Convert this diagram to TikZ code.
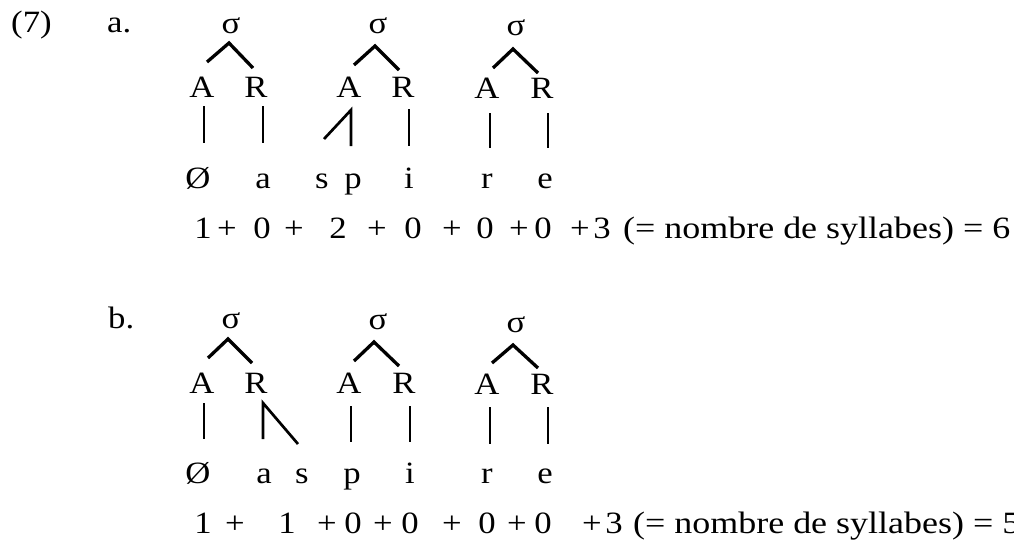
\documentclass[tikz,border=0pt]{standalone}
\usepackage{fontspec}
\setmainfont[FakeStretch=1.12]{Liberation Serif}
\begin{document}
\begin{tikzpicture}[x=1pt,y=-1pt,
  t/.style={inner sep=0pt,anchor=base,font=\fontsize{31}{34}\selectfont},
  tl/.style={inner sep=0pt,anchor=base west,font=\fontsize{31}{34}\selectfont},
  tail/.style={inner sep=0pt,anchor=base west,font=\fontsize{31}{34}\selectfont\addfontfeature{FakeStretch=1.16}},
  br/.style={line width=3.3pt},
  vl/.style={line width=2.7pt}]
\useasboundingbox (0,0) rectangle (1014,544);
% labels
\node[tl] (ex) at (11,32) {(7)};
\node[tl] (la) at (107,32) {a.};
\node[tl] (lb) at (108,328) {b.};
% ---------- (a) ----------
\node[t] (sa1) at (231,33) {σ};
\node[t] (sa2) at (378,33) {σ};
\node[t] (sa3) at (516,35) {σ};
\node[t] (Aa1) at (202,97) {A};
\node[t] (Ra1) at (256,97) {R};
\node[t] (Aa2) at (349,97) {A};
\node[t] (Ra2) at (403,97) {R};
\node[t] (Aa3) at (487,98) {A};
\node[t] (Ra3) at (542,98) {R};
\node[t] (ga1) at (198,188) {Ø};
\node[t] (ga2) at (263,188) {a};
\node[t] (ga3) at (322,188) {s};
\node[t] (ga4) at (353,188) {p};
\node[t] (ga5) at (409,188) {i};
\node[t] (ga6) at (487,188) {r};
\node[t] (ga7) at (545,188) {e};
% numbers (a)
\foreach \x/\s [count=\i] in {203/1,227/+,262/0,294/+,338/2,377/+,413/0,452/+,485/0,519/+,543/0,580/+,602/3}
  \node[t] (na\i) at (\x,238) {\s};
\node[tail] (nat) at (623,238) {(= nombre de syllabes) = 6};
% coordinates (a)
\coordinate (pa1) at (229,43); \coordinate (qa1) at (207,62); \coordinate (ra1) at (253,68);
\coordinate (pa2) at (375,46); \coordinate (qa2) at (354,65); \coordinate (ra2) at (399,70);
\coordinate (pa3) at (513,49); \coordinate (qa3) at (493,68); \coordinate (ra3) at (538,73);
\draw[br] (qa1) -- (pa1) -- (ra1);
\draw[br] (qa2) -- (pa2) -- (ra2);
\draw[br] (qa3) -- (pa3) -- (ra3);
\coordinate (ua1) at (204,106); \coordinate (da1) at (204,143);
\coordinate (ua2) at (263,106); \coordinate (da2) at (263,143);
\coordinate (ua3) at (351,110); \coordinate (da3) at (351,146); \coordinate (sa) at (324,139);
\coordinate (ua4) at (409,109); \coordinate (da4) at (409,146);
\coordinate (ua5) at (490,113); \coordinate (da5) at (490,148);
\coordinate (ua6) at (548,113); \coordinate (da6) at (548,148);
\draw[vl] (ua1) -- (da1);
\draw[vl] (ua2) -- (da2);
\draw[vl] (sa) -- (ua3) -- (da3);
\draw[vl] (ua4) -- (da4);
\draw[vl] (ua5) -- (da5);
\draw[vl] (ua6) -- (da6);
% ---------- (b) ----------
\node[t] (sb1) at (231,328) {σ};
\node[t] (sb2) at (378,329) {σ};
\node[t] (sb3) at (516,332) {σ};
\node[t] (Ab1) at (202,393) {A};
\node[t] (Rb1) at (256,393) {R};
\node[t] (Ab2) at (349,393) {A};
\node[t] (Rb2) at (404,393) {R};
\node[t] (Ab3) at (487,394) {A};
\node[t] (Rb3) at (542,394) {R};
\node[t] (gb1) at (198,483) {Ø};
\node[t] (gb2) at (264,483) {a};
\node[t] (gb3) at (302,483) {s};
\node[t] (gb4) at (352,483) {p};
\node[t] (gb5) at (410,483) {i};
\node[t] (gb6) at (487,483) {r};
\node[t] (gb7) at (545,483) {e};
\foreach \x/\s [count=\i] in {203/1,235/+,287/1,327/+,353/0,383/+,410/0,452/+,487/0,517/+,543/0,592/+,614/3}
  \node[t] (nb\i) at (\x,533) {\s};
\node[tail] (nbt) at (633,533) {(= nombre de syllabes) = 5};
\coordinate (pb1) at (228,339); \coordinate (qb1) at (208,358); \coordinate (rb1) at (252,363);
\coordinate (pb2) at (374,342); \coordinate (qb2) at (354,361); \coordinate (rb2) at (399,366);
\coordinate (pb3) at (513,345); \coordinate (qb3) at (492,363); \coordinate (rb3) at (538,368);
\draw[br] (qb1) -- (pb1) -- (rb1);
\draw[br] (qb2) -- (pb2) -- (rb2);
\draw[br] (qb3) -- (pb3) -- (rb3);
\coordinate (ub1) at (204,403); \coordinate (db1) at (204,439);
\coordinate (ub2) at (263,403); \coordinate (db2) at (263,439); \coordinate (sb) at (298,444);
\coordinate (ub3) at (351,406); \coordinate (db3) at (351,442);
\coordinate (ub4) at (410,406); \coordinate (db4) at (410,442);
\coordinate (ub5) at (490,407); \coordinate (db5) at (490,444);
\coordinate (ub6) at (548,407); \coordinate (db6) at (548,444);
\draw[vl] (ub1) -- (db1);
\draw[vl] (db2) -- (ub2) -- (sb);
\draw[vl] (ub3) -- (db3);
\draw[vl] (ub4) -- (db4);
\draw[vl] (ub5) -- (db5);
\draw[vl] (ub6) -- (db6);
\end{tikzpicture}
\end{document}
